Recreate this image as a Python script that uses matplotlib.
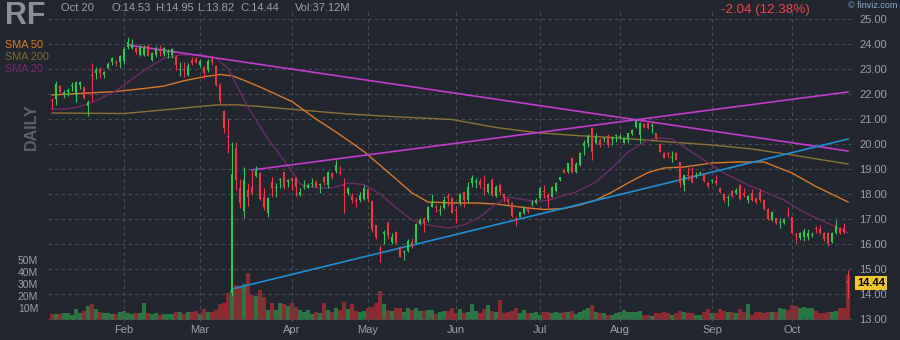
#!/usr/bin/env python
import matplotlib
matplotlib.use("Agg")
import matplotlib.pyplot as plt
import matplotlib.transforms as mtransforms
import numpy as np
import pandas as pd

plt.rcParams['font.family'] = ['Liberation Sans', 'DejaVu Sans']

# daily bars for RF, Jan 5 -> Oct 20 2023
holidays = ['2023-01-16', '2023-02-20', '2023-04-07', '2023-05-29',
            '2023-06-19', '2023-07-04', '2023-09-04']
dates = pd.bdate_range('2023-01-05', '2023-10-20')
dates = dates[~dates.isin(pd.to_datetime(holidays))]

opens = [
    21.75, 21.80, 22.30, 21.95, 22.07, 22.30, 21.97, 22.36, 22.27, 21.50,
    22.78, 22.84, 22.99, 22.77, 23.04, 23.27, 23.28, 23.27, 23.31, 23.87,
    23.84, 23.84, 23.56, 23.56, 23.93, 23.36, 23.56, 23.80, 23.60, 23.62,
    23.56, 23.49, 22.97, 23.00, 22.76, 23.36, 23.39, 23.16, 23.09, 22.96,
    23.39, 23.12, 22.36, 21.33, 20.33, 14.03, 19.83, 18.23, 17.32, 18.16,
    18.27, 18.73, 18.83, 17.87, 17.23, 18.47, 18.24, 18.57, 18.87, 18.47,
    18.63, 18.63, 17.96, 18.27, 18.23, 18.41, 18.49, 18.35, 18.67, 18.36,
    18.83, 18.93, 18.87, 18.33, 18.05, 17.93, 17.75, 17.76, 17.79, 18.19,
    17.72, 16.76, 15.77, 16.40, 16.85, 16.07, 16.47, 15.89, 15.67, 15.73,
    16.09, 16.05, 16.80, 17.00, 16.96, 17.49, 17.49, 17.31, 17.43, 17.92,
    17.83, 17.33, 17.69, 18.07, 17.76, 18.43, 18.47, 18.52, 18.24, 18.09,
    18.56, 17.93, 18.36, 17.99, 17.80, 17.63, 17.00, 17.09, 17.25, 17.47,
    17.61, 17.65, 17.83, 18.11, 17.96, 17.87, 18.12, 18.56, 18.96, 18.89,
    19.45, 18.89, 19.16, 19.92, 20.03, 20.63, 20.05, 20.16, 20.19, 20.32,
    20.19, 20.31, 20.28, 20.05, 20.16, 20.40, 20.69, 20.36, 20.80, 20.83,
    20.71, 20.43, 19.99, 19.63, 19.63, 19.44, 19.63, 19.27, 18.36, 18.73,
    18.76, 18.71, 18.81, 18.76, 18.45, 18.51, 18.53, 18.23, 18.00, 17.85,
    18.13, 18.03, 18.36, 18.05, 17.76, 18.05, 17.83, 18.09, 17.76, 17.39,
    16.97, 17.03, 16.83, 16.85, 17.17, 17.07, 16.37, 16.23, 16.29, 16.27,
    16.35, 16.60, 16.59, 16.43, 16.43, 16.09, 16.43, 16.63, 16.63, 14.53,
]
highs = [
    21.84, 22.50, 22.35, 22.17, 22.24, 22.47, 22.53, 22.53, 22.30, 21.77,
    23.23, 23.07, 23.07, 22.93, 23.27, 23.49, 23.36, 23.56, 23.87, 24.28,
    24.20, 23.90, 24.00, 23.95, 24.00, 23.69, 23.92, 23.96, 23.89, 23.79,
    23.83, 23.56, 23.29, 23.29, 23.23, 23.49, 23.49, 23.39, 23.12, 23.39,
    23.56, 23.16, 22.43, 21.36, 21.03, 20.07, 20.09, 18.59, 19.07, 18.43,
    18.93, 19.12, 18.89, 18.23, 17.89, 18.69, 18.45, 18.63, 18.89, 18.59,
    18.69, 18.69, 18.23, 18.56, 18.45, 18.63, 18.56, 18.45, 18.72, 18.92,
    18.89, 19.36, 19.12, 18.63, 18.29, 18.03, 17.89, 18.09, 18.36, 18.23,
    17.76, 16.76, 15.96, 16.56, 16.92, 16.43, 16.52, 15.93, 15.76, 16.19,
    16.23, 16.83, 17.03, 17.09, 17.52, 17.99, 17.59, 17.56, 17.92, 18.05,
    17.89, 17.52, 18.05, 18.09, 18.49, 18.76, 18.63, 18.63, 18.76, 18.43,
    18.63, 18.36, 18.43, 18.03, 17.85, 17.67, 17.09, 17.29, 17.52, 17.49,
    17.76, 17.85, 18.27, 18.36, 18.03, 18.32, 18.49, 18.69, 18.99, 19.25,
    19.49, 19.29, 19.69, 20.16, 20.40, 20.69, 20.43, 20.23, 20.29, 20.39,
    20.32, 20.40, 20.39, 20.29, 20.45, 20.59, 20.99, 20.87, 20.83, 20.85,
    20.85, 20.45, 20.03, 19.67, 19.69, 19.72, 19.67, 19.29, 18.79, 19.09,
    19.09, 18.89, 18.92, 18.83, 18.53, 18.59, 18.76, 18.29, 18.03, 17.96,
    18.16, 18.23, 18.40, 18.23, 17.96, 18.19, 17.87, 18.19, 17.80, 17.45,
    17.32, 17.05, 17.03, 17.03, 17.47, 17.09, 16.45, 16.49, 16.63, 16.60,
    16.49, 16.72, 16.76, 16.49, 16.49, 16.49, 16.96, 16.69, 16.83, 14.95,
]
lows = [
    21.40, 21.57, 22.00, 21.83, 21.93, 22.13, 21.67, 22.20, 21.78, 21.13,
    21.73, 22.60, 22.63, 22.63, 23.00, 23.17, 23.13, 23.03, 23.20, 23.80,
    23.80, 23.60, 23.53, 23.50, 23.50, 23.33, 23.49, 23.52, 23.52, 23.43,
    23.43, 22.96, 22.72, 22.67, 22.72, 23.16, 23.23, 23.09, 22.63, 22.87,
    23.16, 22.33, 21.60, 20.45, 19.65, 13.90, 18.16, 17.43, 17.03, 17.50,
    17.96, 18.69, 17.76, 17.36, 17.09, 17.87, 17.89, 18.25, 18.19, 18.29,
    18.16, 17.93, 17.93, 18.19, 18.23, 18.29, 18.27, 18.03, 18.36, 18.23,
    18.59, 18.83, 18.76, 17.23, 17.96, 17.63, 17.49, 17.69, 17.76, 17.69,
    16.49, 16.20, 15.29, 16.00, 16.20, 16.00, 16.00, 15.47, 15.36, 15.69,
    15.83, 16.03, 16.76, 16.49, 16.89, 17.47, 17.29, 17.16, 17.39, 17.52,
    17.23, 16.85, 17.56, 17.49, 17.65, 18.29, 18.25, 18.25, 17.96, 18.03,
    17.93, 17.89, 17.96, 17.69, 17.56, 17.09, 16.72, 17.07, 17.20, 17.23,
    17.52, 17.60, 17.79, 17.83, 17.49, 17.87, 18.09, 18.53, 18.83, 18.83,
    18.83, 18.83, 19.12, 19.56, 19.89, 19.36, 19.99, 19.89, 20.09, 19.89,
    19.96, 20.09, 20.19, 20.03, 20.03, 20.36, 20.63, 20.05, 20.63, 20.59,
    20.45, 20.21, 19.67, 19.43, 19.47, 19.29, 19.36, 18.29, 18.13, 18.56,
    18.45, 18.63, 18.76, 18.49, 18.25, 18.43, 18.36, 18.03, 17.69, 17.52,
    17.89, 18.00, 17.76, 17.87, 17.65, 17.73, 17.60, 17.69, 17.36, 16.95,
    16.93, 16.80, 16.63, 16.80, 17.09, 16.43, 16.03, 16.16, 16.13, 16.16,
    16.27, 16.43, 16.40, 16.13, 15.92, 16.05, 16.40, 16.40, 16.40, 13.82,
]
closes = [
    21.70, 22.40, 22.07, 22.07, 22.16, 22.33, 22.47, 22.47, 21.83, 21.67,
    22.72, 22.97, 22.83, 22.89, 23.20, 23.43, 23.25, 23.53, 23.80, 24.07,
    24.00, 23.67, 23.87, 23.84, 23.53, 23.63, 23.80, 23.72, 23.83, 23.64,
    23.80, 23.16, 23.00, 22.97, 23.12, 23.25, 23.29, 23.33, 22.85, 23.32,
    23.29, 22.36, 21.72, 20.63, 20.27, 18.80, 18.56, 17.63, 18.56, 17.87,
    18.03, 18.92, 17.79, 17.49, 17.83, 18.25, 18.27, 18.60, 18.29, 18.56,
    18.53, 18.29, 18.09, 18.29, 18.35, 18.43, 18.29, 18.37, 18.49, 18.89,
    18.67, 19.16, 18.85, 18.31, 18.23, 17.76, 17.72, 17.96, 18.25, 17.79,
    16.60, 16.29, 15.76, 16.48, 16.36, 16.27, 16.05, 15.49, 15.69, 16.13,
    15.87, 16.80, 16.96, 16.85, 17.47, 17.65, 17.43, 17.33, 17.76, 17.83,
    17.25, 17.31, 18.00, 17.76, 18.29, 18.63, 18.49, 18.36, 18.21, 18.40,
    17.96, 18.27, 18.09, 17.85, 17.67, 17.13, 16.99, 17.29, 17.49, 17.33,
    17.63, 17.76, 18.23, 18.09, 17.83, 18.27, 18.45, 18.67, 18.85, 19.23,
    18.89, 19.20, 19.63, 20.03, 20.32, 19.69, 20.29, 19.96, 20.21, 19.96,
    20.21, 20.33, 20.31, 20.23, 20.43, 20.56, 20.93, 20.83, 20.67, 20.63,
    20.73, 20.23, 19.69, 19.45, 19.61, 19.47, 19.36, 18.43, 18.76, 18.71,
    18.49, 18.73, 18.83, 18.53, 18.32, 18.53, 18.43, 18.09, 17.76, 17.87,
    17.92, 18.16, 17.80, 17.96, 17.92, 17.76, 17.69, 17.76, 17.39, 17.00,
    17.29, 16.83, 16.85, 16.99, 17.15, 16.45, 16.35, 16.45, 16.53, 16.45,
    16.37, 16.59, 16.43, 16.19, 16.00, 16.45, 16.72, 16.43, 16.48, 14.44,
]
# volume, millions of shares
volumes = [
    4.9, 5.0, 5.0, 5.5, 6.0, 4.0, 8.8, 6.0, 7.4, 11.5,
    13.2, 8.8, 6.9, 6.0, 5.5, 4.7, 5.0, 6.9, 7.4, 5.5,
    5.0, 5.5, 5.5, 14.3, 5.5, 5.0, 6.0, 4.0, 4.7, 5.0,
    5.0, 6.9, 6.3, 5.0, 6.9, 6.3, 7.4, 4.7, 9.0, 6.6,
    6.6, 8.2, 13.7, 14.3, 22.5, 25.0, 29.0, 28.0, 30.0, 39.0,
    20.6, 20.0, 25.0, 19.0, 8.0, 14.0, 8.0, 14.0, 13.0, 12.0,
    14.0, 10.5, 8.0, 7.0, 8.0, 5.0, 7.0, 6.0, 14.0, 8.0,
    6.3, 10.4, 8.2, 15.0, 8.8, 13.7, 7.7, 7.0, 7.7, 10.4,
    11.0, 14.3, 24.0, 13.2, 8.0, 7.7, 10.4, 10.4, 7.0, 9.6,
    8.2, 9.6, 7.4, 7.7, 8.2, 8.2, 5.0, 6.3, 7.7, 7.4,
    9.6, 6.0, 8.8, 5.5, 6.9, 13.7, 7.7, 5.5, 8.8, 12.4,
    7.7, 6.9, 16.5, 6.0, 6.9, 7.7, 10.0, 5.5, 8.2, 6.0,
    6.0, 6.9, 4.0, 6.9, 6.9, 6.0, 6.9, 6.0, 6.9, 6.9,
    7.7, 5.0, 6.9, 8.2, 10.0, 12.4, 6.9, 6.0, 6.0, 4.0,
    4.0, 6.0, 6.9, 8.2, 6.9, 6.9, 6.9, 7.7, 4.0, 4.0,
    3.3, 6.0, 5.5, 6.9, 6.0, 4.0, 5.5, 7.7, 6.9, 5.5,
    6.0, 4.0, 4.0, 6.9, 8.8, 6.0, 6.0, 8.8, 7.7, 6.9,
    6.9, 6.0, 8.8, 6.9, 13.7, 4.0, 6.9, 6.9, 6.0, 6.9,
    6.9, 6.9, 9.6, 8.8, 8.2, 12.4, 11.5, 10.0, 11.0, 10.4,
    9.6, 7.7, 6.0, 6.0, 6.6, 6.9, 7.7, 9.6, 10.0, 37.12,
]

# moving averages, sampled at bar indices
sma20_idx = [0, 4, 7, 11, 16, 20, 24, 28, 32, 37, 41, 44, 46, 49, 51, 54, 60, 62,
             66, 70, 74, 78, 82, 86, 90, 94, 99, 103, 107, 111, 114, 117, 121,
             124, 131, 136, 140, 144, 149, 152, 155, 158, 163, 168, 174, 183,
             187, 191, 195, 199]
sma20_val = [21.40, 21.40, 21.50, 21.73, 22.13, 22.60, 23.05, 23.43, 23.56, 23.58,
             23.43, 23.03, 22.40, 21.48, 20.96, 20.20, 18.90, 18.40, 18.24, 18.24,
             18.44, 18.38, 18.00, 17.45, 16.96, 16.76, 16.64, 16.76, 17.08, 17.60,
             17.88, 17.80, 17.70, 17.75, 18.08, 18.48, 19.04, 19.68, 20.16, 20.24,
             20.20, 19.88, 19.36, 18.84, 18.36, 17.76, 17.36, 17.04, 16.76, 16.44]
sma50_idx = [0, 8, 16, 23, 28, 33, 38, 42, 45, 48, 52, 60, 66, 71, 78, 86, 90, 94,
             100, 106, 111, 115, 119, 123, 128, 132, 136, 140, 144, 149, 153, 158,
             165, 171, 178, 185, 191, 199]
sma50_val = [21.96, 22.03, 22.10, 22.22, 22.32, 22.53, 22.69, 22.78, 22.73, 22.55,
             22.28, 21.70, 21.00, 20.48, 19.70, 18.60, 18.04, 17.68, 17.64, 17.64,
             17.60, 17.52, 17.44, 17.38, 17.42, 17.56, 17.76, 18.08, 18.44, 18.86,
             19.04, 19.08, 19.24, 19.28, 19.28, 18.84, 18.30, 17.68]
sma200_idx = [0, 18, 27, 37, 41, 46, 52, 62, 74, 87, 100, 111, 122, 132, 142, 153,
              165, 175, 185, 192, 199]
sma200_val = [21.24, 21.22, 21.35, 21.50, 21.56, 21.57, 21.50, 21.36, 21.20, 21.08,
              20.98, 20.66, 20.44, 20.33, 20.24, 20.10, 19.96, 19.80, 19.56, 19.38,
              19.20]

# trend lines: (start bar, start price, end bar, end price)
trend_down = (19, 23.96, 199, 19.72)
trend_up = (50, 18.96, 199, 22.08)
trend_support = (45, 14.20, 199, 20.20)

price_ticks = [13, 14, 15, 16, 17, 18, 19, 20, 21, 22, 23, 24, 25]
vol_ticks = [10, 20, 30, 40, 50]

bg = '#22262f'
grid_col = '#464b56'
text_col = '#9aa0ab'
up_col = '#2fc94f'
down_col = '#f2383f'
up_vol = '#2b7444'
down_vol = '#8a2a31'

opens = np.array(opens)
closes = np.array(closes)
x = np.arange(len(closes))
rising = closes >= opens

W, H = 900, 340
fig = plt.figure(figsize=(W / 100, H / 100), dpi=100, facecolor=bg)
rect = [48 / W, 18 / H, 804 / W, 312 / H]

# volume panel underneath
axv = fig.add_axes(rect, facecolor=bg)
axv.bar(x, volumes, width=1.0, color=np.where(rising, up_vol, down_vol),
        linewidth=0)
axv.set_ylim(-1.67, 258.3)
axv.set_yticks(vol_ticks)
axv.set_yticklabels(['%dM' % v for v in vol_ticks])
axv.tick_params(axis='y', length=0, pad=7, labelsize=7.5, labelcolor=text_col)
axv.tick_params(axis='x', length=0, labelbottom=False)
for s in axv.spines.values():
    s.set_visible(False)

# price panel on top
ax = fig.add_axes(rect, facecolor='none', sharex=axv)
ax.set_ylim(12.88, 25.36)

month_pos = [i for i in range(1, len(dates)) if dates[i].month != dates[i - 1].month]
ax.set_xticks(month_pos)
ax.set_xticklabels([dates[i].strftime('%b') for i in month_pos])
ax.tick_params(axis='x', length=0, pad=2, labelsize=8, labelcolor=text_col)
ax.yaxis.tick_right()
ax.set_yticks(price_ticks)
ax.set_yticklabels(['%.2f' % p for p in price_ticks])
ax.tick_params(axis='y', length=0, pad=5, labelsize=8, labelcolor=text_col)
ax.grid(True, color=grid_col, linestyle=(0, (3, 3)), linewidth=0.8)
for s in ax.spines.values():
    s.set_visible(False)

# moving averages
ax.plot(sma200_idx, sma200_val, color='#8c7436', lw=1.0, zorder=2)
ax.plot(sma50_idx, sma50_val, color='#d97a2c', lw=1.0, zorder=2)
ax.plot(sma20_idx, sma20_val, color='#6f2b66', lw=1.0, zorder=2)

# trend lines
for (i0, p0, i1, p1), col in [(trend_down, '#c23ccf'), (trend_up, '#c23ccf'),
                              (trend_support, '#1e8fd5')]:
    ax.plot([i0, i1], [p0, p1], color=col, lw=1.2, zorder=3)

# candles
cols = np.where(rising, up_col, down_col)
ax.vlines(x, lows, highs, colors=cols, lw=0.8, zorder=4)
body_lo = np.minimum(opens, closes)
body_h = np.maximum(np.abs(closes - opens), 0.04)
ax.bar(x, body_h, bottom=body_lo, width=0.72, color=cols, linewidth=0, zorder=5)

# last price tag
trans = mtransforms.blended_transform_factory(ax.transAxes, ax.transData)
trans = trans + mtransforms.ScaledTranslation(5 / 100, 0, fig.dpi_scale_trans)
ax.text(1.0, closes[-1], '%.2f' % closes[-1], transform=trans, ha='left', va='center',
        fontsize=8, fontweight='bold', color='black',
        bbox=dict(boxstyle='square,pad=0.15', fc='#f3c531', ec='none'))
ax.set_xlim(-1, len(x))

# header
fig.text(5 / W, 1 - 16 / H, 'RF', fontsize=22, fontweight='bold', color='#8a8f9a',
         va='center', ha='left')
o, h, l, c = opens[-1], highs[-1], lows[-1], closes[-1]
hdr = [(61, 'Oct 20'), (111, 'O:%.2f' % o), (155, 'H:%.2f' % h), (197, 'L:%.2f' % l),
       (240, 'C:%.2f' % c), (295, 'Vol:%.2fM' % volumes[-1])]
for px, s in hdr:
    fig.text(px / W, 1 - 8 / H, s, fontsize=8, color=text_col, va='center', ha='left')
chg = c - closes[-2]
fig.text(810 / W, 1 - 10 / H, '%.2f (%.2f%%)' % (chg, abs(chg) / closes[-2] * 100),
         fontsize=9.6, color='#f0444e', va='center', ha='right')
fig.text(897 / W, 1 - 6 / H, '© finviz.com', fontsize=6.5, color='#86acd4',
         va='center', ha='right')

# legend
for py, s, col in [(45, 'SMA 50', '#d97a2c'), (57, 'SMA 200', '#7f6a34'),
                   (69, 'SMA 20', '#7a2d6c')]:
    fig.text(5 / W, 1 - py / H, s, fontsize=7.8, color=col, va='center', ha='left')

fig.text(31 / W, 1 - 127 / H, 'DAILY', fontsize=11.5, fontweight='bold', color='#5d626d',
         rotation=90, va='center', ha='center')

fig.savefig('out.png', dpi=100, facecolor=bg)
